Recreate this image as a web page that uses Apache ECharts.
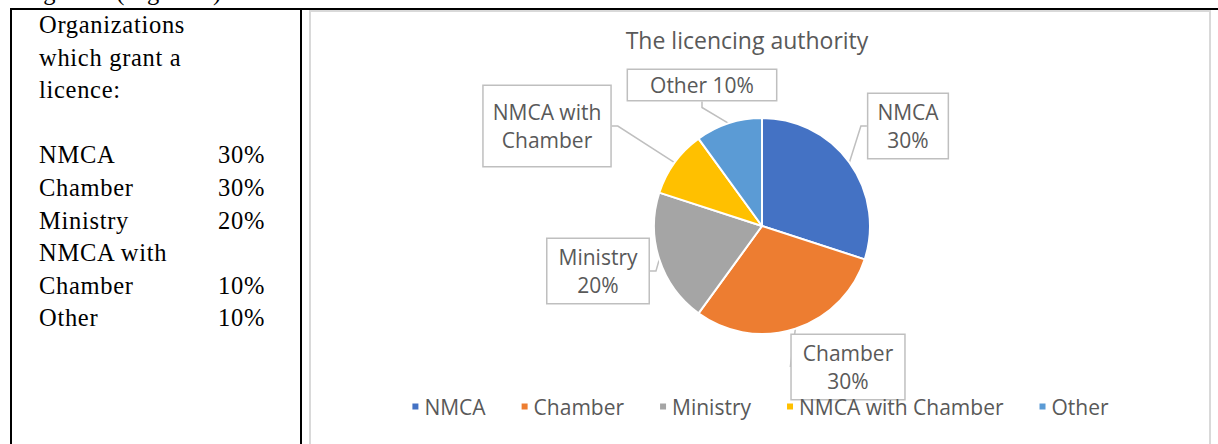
<!DOCTYPE html>
<html>
<head>
<meta charset="utf-8">
<script src="https://cdn.jsdelivr.net/npm/echarts@6/dist/echarts.min.js"></script>
<style>
  html, body { margin: 0; padding: 0; background: #fff; overflow: hidden; width: 1218px; height: 444px; }
  .doc-line { position: absolute; left: 27px; top: -22px; font-family: "Liberation Serif", serif; font-size: 24.5px; letter-spacing: 0.7px; color: #000; white-space: nowrap; }
  .cell-border-top { position: absolute; left: 10px; top: 8px; width: 1208px; height: 2px; background: #000; }
  .cell-border-left { position: absolute; left: 10px; top: 8px; width: 2px; height: 440px; background: #000; }
  .cell-border-mid { position: absolute; left: 300px; top: 8px; width: 2px; height: 440px; background: #000; }
  .cell-text { position: absolute; left: 39px; top: 9px; width: 226px; font-family: "Liberation Serif", serif; font-size: 24.5px; letter-spacing: 0.7px; line-height: 32.6px; color: #000; }
  .cell-text .row { display: flex; justify-content: space-between; height: 32.6px; }
  .chart-frame { position: absolute; left: 309px; top: 10px; width: 898px; height: 460px; border: 2px solid #d9d9d9; border-bottom: none; }
</style>
</head>
<body>
<div class="doc-line">figure 3 (Figure 3).</div>
<div class="cell-border-top"></div>
<div class="cell-border-left"></div>
<div class="cell-border-mid"></div>
<div class="cell-text" id="cell-text"></div>
<div class="chart-frame">
  <div id="echarts-main" style="position:absolute;left:0;top:0;width:897px;height:450px;"></div>
</div>

<script>
  const categories = ['NMCA', 'Chamber', 'Ministry', 'NMCA with Chamber', 'Other'];
  const shares = [30, 30, 20, 10, 10];
  const labelFormats = ['{b}\n{d}%', '{b}\n{d}%', '{b}\n{d}%', 'NMCA with\nChamber', '{b} {d}%'];
  const tableLabels = ['NMCA', 'Chamber', 'Ministry', 'NMCA with\nChamber', 'Other'];

  const colors = ['#4472c4', '#ed7d31', '#a5a5a5', '#ffc000', '#5b9bd5'];
  // label box centres inside the chart div
  const labelSpots = [[597, 114], [537, 355], [287, 259], [236, 114], [391, 73]];
  const labelPads = [[4, 9], [4, 11], [4, 11], [12, 9], [1, 22]];

  // left table cell
  const cell = document.getElementById('cell-text');
  let html = '<div>Organizations</div><div>which grant a</div><div>licence:</div><div class="row"></div>';
  categories.forEach((c, i) => {
    const parts = tableLabels[i].split('\n');
    parts.forEach((p, j) => {
      const pct = j === parts.length - 1 ? shares[i] + '%' : '';
      html += '<div class="row"><span>' + p + '</span><span>' + pct + '</span></div>';
    });
  });
  cell.innerHTML = html;

  const curveChart = echarts.init(document.getElementById('echarts-main'), null, { renderer: 'svg' });

  const seriesData = categories.map((name, i) => ({
    name: name,
    value: shares[i],
    label: { formatter: labelFormats[i], padding: labelPads[i] }
  }));

  const option = {
    color: colors,
    title: {
      text: 'The licencing authority',
      left: 431,
      top: 11,
      textAlign: 'center',
      textStyle: { fontFamily: 'Open Sans', fontSize: 23, fontWeight: 'normal', color: '#595959' }
    },
    legend: {
      bottom: 40,
      left: 'center',
      icon: 'rect',
      itemWidth: 8,
      itemHeight: 8,
      itemGap: 34,
      textStyle: { fontFamily: 'Open Sans', fontSize: 21, color: '#595959' }
    },
    series: [{
      type: 'pie',
      center: [451, 214],
      radius: 108,
      startAngle: 90,
      clockwise: true,
      itemStyle: { borderColor: '#fff', borderWidth: 2 },
      label: {
        show: true,
        position: 'outside',
        fontFamily: 'Open Sans',
        fontSize: 21,
        lineHeight: 28,
        color: '#595959',
        backgroundColor: '#fff',
        borderColor: '#bfbfbf',
        borderWidth: 1.5
      },
      labelLine: { show: true, length: 6, length2: 6, lineStyle: { color: '#bfbfbf', width: 1.5 } },
      labelLayout: function (params) {
        const p = labelSpots[params.dataIndex];
        return { x: p[0], y: p[1], align: 'center', verticalAlign: 'middle', moveOverlap: false };
      },
      emphasis: { disabled: true },
      data: seriesData
    }]
  };

  curveChart.setOption(option);
</script>
</body>
</html>
